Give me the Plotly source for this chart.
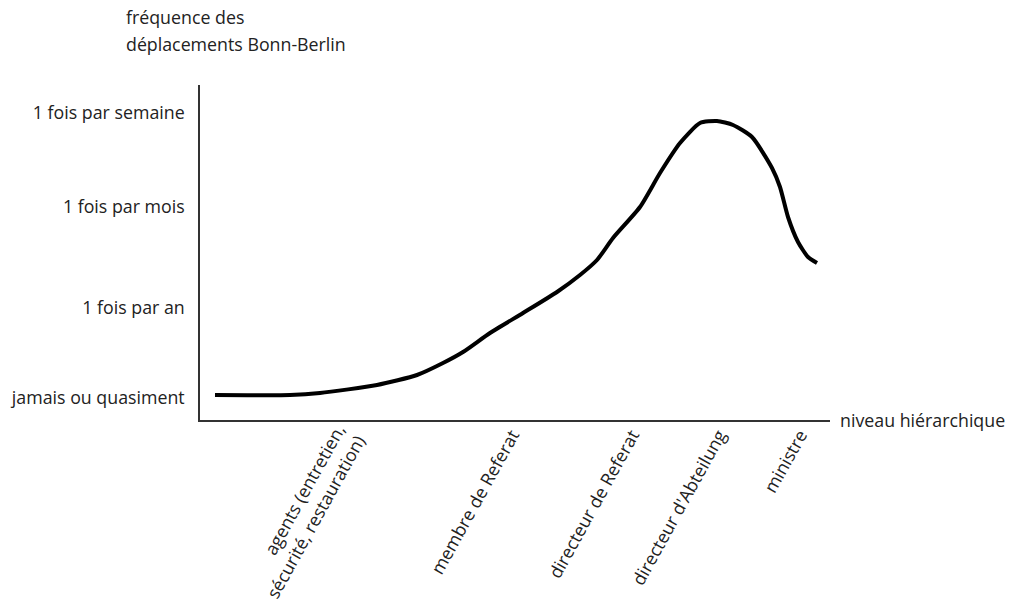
import plotly.graph_objects as go

# Curve (hierarchy position, travel frequency score)
curve_x = [15, 90, 120, 177, 217, 243, 263, 290, 323, 357, 380, 397, 413, 440, 460,
           480, 500, 517, 533, 552, 572, 580, 588, 598, 608, 617]
curve_y = [25, 25, 27, 35, 45, 57, 68, 87, 107, 128, 145, 160, 182, 213, 247,
           277, 297, 299, 295, 283, 252, 233, 203, 178, 163, 157]

# Hierarchy categories (x ticks)
cat_pos = [148, 312, 432, 519, 600]
cat_labels = ["agents (entretien,<br>sécurité, restauration)", "membre de Referat",
              "directeur de Referat", "directeur d'Abteilung", "ministre"]

# Frequency levels (y ticks)
freq_pos = [22, 112, 213, 307]
freq_labels = ["jamais ou quasiment", "1 fois par an", "1 fois par mois", "1 fois par semaine"]

FONT = "Open Sans"
FS = 17.8
COL = "#222"

fig = go.Figure()
fig.add_trace(go.Scatter(x=curve_x, y=curve_y, mode="lines",
                         line=dict(color="black", width=4, shape="spline", smoothing=0.6),
                         hoverinfo="skip", showlegend=False))

fig.update_layout(
    width=1009, height=602,
    margin=dict(l=200, r=179, t=85, b=182, autoexpand=False),
    paper_bgcolor="white", plot_bgcolor="white",
    font=dict(family=FONT, size=FS, color=COL),
    showlegend=False,
    xaxis=dict(range=[0, 630], showgrid=False, zeroline=False, showline=True,
               linecolor="#333", linewidth=1.5, tickmode="array", tickvals=cat_pos,
               ticktext=cat_labels, tickangle=-61, ticks="", ticklabelstandoff=-4,
               automargin=False, fixedrange=True,
               tickfont=dict(family=FONT, size=FS, color=COL)),
    yaxis=dict(range=[0, 335], showgrid=False, zeroline=False, showline=True,
               linecolor="#333", linewidth=1.5, tickmode="array", tickvals=freq_pos,
               ticktext=freq_labels, ticks="", ticklabelstandoff=10,
               automargin=False, fixedrange=True,
               tickfont=dict(family=FONT, size=FS, color=COL)),
    annotations=[
        dict(text="fréquence des", xref="paper", yref="paper",
             x=-76/630, y=1 + (85 - 17) / 335, xanchor="left", yanchor="middle", align="left",
             showarrow=False, font=dict(family=FONT, size=FS, color=COL)),
        dict(text="déplacements Bonn-Berlin", xref="paper", yref="paper",
             x=-76/630, y=1 + (85 - 44) / 335, xanchor="left", yanchor="middle", align="left",
             showarrow=False, font=dict(family=FONT, size=FS, color=COL)),
        dict(text="niveau hiérarchique", xref="paper", yref="paper",
             x=1 + 8/630, y=0, xanchor="left", yanchor="middle", align="left",
             showarrow=False, font=dict(family=FONT, size=FS, color=COL)),
    ],
)

fig.write_html("out.html", config={"displayModeBar": False},
               post_script="document.body.style.margin='0';document.body.style.overflow='hidden';")
